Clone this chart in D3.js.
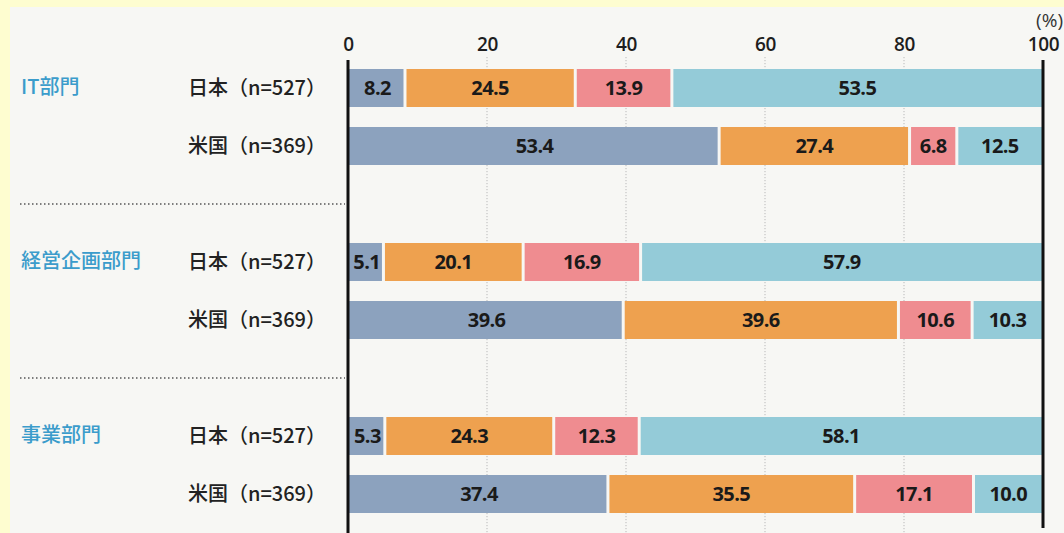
<!DOCTYPE html>
<html lang="ja">
<head>
<meta charset="utf-8">
<script src="https://cdn.jsdelivr.net/npm/d3@7"></script>
<style>
  html, body { margin: 0; padding: 0; background: #fefdd0; }
  svg { display: block; }
</style>
</head>
<body>
<svg id="chart" width="1064" height="533"></svg>
<script>
// Departments (groups) and respondent countries (rows within each group)
const groups = ["IT部門", "経営企画部門", "事業部門"];
const countries = ["日本", "米国"];
const sampleSizes = ["n=527", "n=369"];

// Share of answers (%) per row, in stacking order
const seriesA = [8.2, 53.4, 5.1, 39.6, 5.3, 37.4];
const seriesB = [24.5, 27.4, 20.1, 39.6, 24.3, 35.5];
const seriesC = [13.9, 6.8, 16.9, 10.6, 12.3, 17.1];
const seriesD = [53.5, 12.5, 57.9, 10.3, 58.1, 10.0];

const tickValues = [0, 20, 40, 60, 80, 100];
const colors = ["#8ca2be", "#eea14f", "#ef8c90", "#94cbd8"];

const svg = d3.select("#chart");
const W = 1064, H = 533;

// Panel behind the chart
svg.append("rect").attr("x", 10).attr("y", 7).attr("width", W - 10).attr("height", H - 7)
  .attr("fill", "#f7f7f4");

const x = d3.scaleLinear().domain([0, 100]).range([348, 1043]);
const gy = d3.scaleBand().domain(groups).range([50, 50 + 174 * 3]);
const ry = d3.scaleBand().domain(countries).range([19, 19 + 96]).paddingInner(0.345).paddingOuter(0);

const seriesList = [seriesA, seriesB, seriesC, seriesD];
const rows = [];
groups.forEach((g, gi) => {
  countries.forEach((c, ci) => {
    const idx = gi * countries.length + ci;
    rows.push({ group: g, country: c, n: sampleSizes[ci], idx,
      y: gy(g) + ry(c), values: seriesList.map(s => s[idx]) });
  });
});

// Dotted grid lines at interior ticks
svg.append("g").selectAll("line")
  .data(tickValues.filter(t => t > 0 && t < 100))
  .join("line")
  .attr("x1", d => x(d)).attr("x2", d => x(d))
  .attr("y1", 57).attr("y2", H)
  .attr("stroke", "#b9b9b9").attr("stroke-width", 1)
  .attr("stroke-dasharray", "1.2,1.8");

// Tick labels via a top axis
const axis = d3.axisTop(x).tickValues(tickValues).tickSize(0).tickPadding(0);
const axG = svg.append("g").attr("transform", "translate(0,51)").call(axis);
axG.select(".domain").remove();
axG.selectAll("text")
  .attr("font-family", "'Open Sans', 'Noto Sans', sans-serif")
  .attr("font-size", 19).attr("font-weight", 600).attr("fill", "#1e1e1e")
  .attr("letter-spacing", -0.3)
  .attr("dy", 0);

svg.append("text").attr("x", 1063).attr("y", 27).attr("text-anchor", "end")
  .attr("font-family", "'Open Sans', 'Noto Sans', sans-serif")
  .attr("font-size", 19).attr("fill", "#333").text("(%)");

// Stacked segments
const gap = 1.5;
const segs = [];
rows.forEach(r => {
  let acc = 0;
  r.values.forEach((v, si) => {
    const start = acc, end = Math.min(100, acc + v);
    acc += v;
    segs.push({ row: r, si, v, start, end });
  });
});

const barH = ry.bandwidth();
svg.append("g").selectAll("rect").data(segs).join("rect")
  .attr("x", d => x(d.start) + (d.si > 0 ? gap : 0))
  .attr("width", d => x(d.end) - x(d.start) - (d.si > 0 ? gap : 0) - (d.si < 3 ? gap : 0))
  .attr("y", d => d.row.y).attr("height", barH)
  .attr("fill", d => colors[d.si]);

svg.append("g").selectAll("text").data(segs).join("text")
  .attr("x", d => (x(d.start) + x(d.end)) / 2 + (d.si === 0 ? 1 : 0))
  .attr("y", d => d.row.y + barH / 2)
  .attr("dy", "0.37em")
  .attr("text-anchor", "middle")
  .attr("font-family", "'Open Sans', 'Noto Sans', sans-serif")
  .attr("font-size", 20).attr("font-weight", 700).attr("fill", "#1a1a1a")
  .attr("letter-spacing", -0.6)
  .text(d => d.v.toFixed(1));

// Axis lines at 0 and 100
svg.append("line").attr("x1", x(0)).attr("x2", x(0)).attr("y1", 60).attr("y2", H)
  .attr("stroke", "#111").attr("stroke-width", 3);
svg.append("line").attr("x1", x(100)).attr("x2", x(100)).attr("y1", 60).attr("y2", 528)
  .attr("stroke", "#111").attr("stroke-width", 3);

// Row labels
svg.append("g").selectAll("text").data(rows).join("text")
  .attr("x", 326).attr("y", d => d.y + barH / 2).attr("dy", "0.36em")
  .attr("text-anchor", "end")
  .attr("font-family", "'Noto Sans CJK JP', sans-serif")
  .attr("font-size", 20).attr("font-weight", 500).attr("fill", "#222")
  .text(d => `${d.country}（${d.n}）`);

// Group labels
svg.append("g").selectAll("text").data(groups).join("text")
  .attr("x", 21).attr("y", g => gy(g) + ry(countries[0]) + barH / 2 - 1).attr("dy", "0.36em")
  .attr("font-family", "'Noto Sans CJK JP', sans-serif")
  .attr("font-size", 20).attr("font-weight", 500).attr("fill", "#3b9ccb")
  .text(g => g);

// Dotted separators between groups
svg.append("g").selectAll("line").data(groups.slice(1)).join("line")
  .attr("x1", 20).attr("x2", 345)
  .attr("y1", g => gy(g) - 20).attr("y2", g => gy(g) - 20)
  .attr("stroke", "#555").attr("stroke-width", 1.6)
  .attr("stroke-dasharray", "1.5,2.5");
</script>
</body>
</html>
